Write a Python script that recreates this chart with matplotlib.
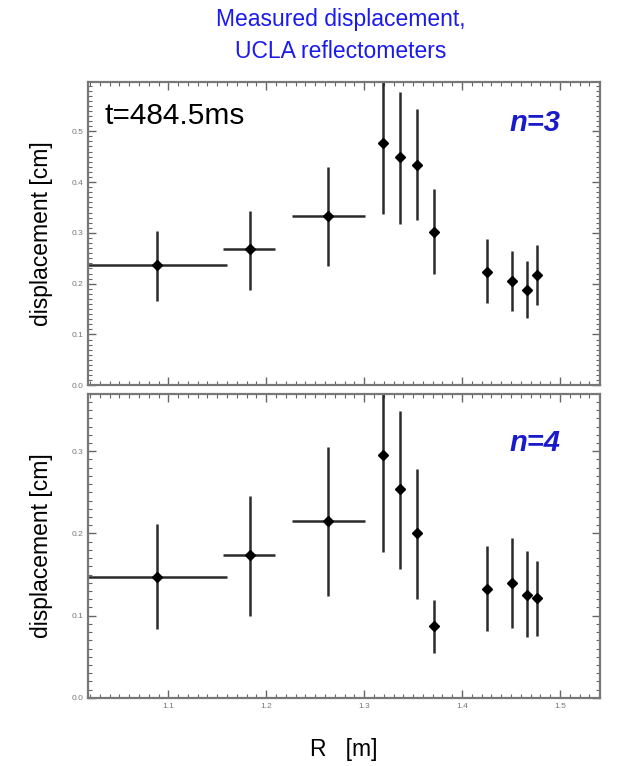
import matplotlib
matplotlib.use("Agg")
import matplotlib.pyplot as plt
from matplotlib.ticker import MultipleLocator

plt.rcParams['font.family'] = ['Liberation Sans', 'DejaVu Sans']

# Data
R = [1.088, 1.183, 1.263, 1.319, 1.337, 1.354, 1.371, 1.426, 1.451, 1.466, 1.477]
R_lo = [1.016, 1.156, 1.226, 1.319, 1.337, 1.354, 1.371, 1.426, 1.451, 1.466, 1.477]
R_hi = [1.160, 1.209, 1.301, 1.319, 1.337, 1.354, 1.371, 1.426, 1.451, 1.466, 1.477]

d3 = [0.237, 0.268, 0.333, 0.477, 0.449, 0.434, 0.302, 0.222, 0.205, 0.187, 0.217]
d3_lo = [0.165, 0.188, 0.234, 0.337, 0.317, 0.326, 0.219, 0.162, 0.147, 0.133, 0.158]
d3_hi = [0.304, 0.343, 0.429, 0.640, 0.578, 0.543, 0.386, 0.287, 0.264, 0.244, 0.276]

d4 = [0.1465, 0.174, 0.215, 0.295, 0.254, 0.200, 0.087, 0.133, 0.140, 0.1255, 0.121]
d4_lo = [0.084, 0.100, 0.124, 0.177, 0.157, 0.120, 0.055, 0.081, 0.085, 0.074, 0.075]
d4_hi = [0.211, 0.245, 0.305, 0.400, 0.3485, 0.278, 0.119, 0.185, 0.194, 0.179, 0.167]

xticks = [1.1, 1.2, 1.3, 1.4, 1.5]

fig = plt.figure(figsize=(6.29, 7.66), dpi=100)
ax1 = fig.add_axes([0.140, 0.497, 0.814, 0.396])
ax2 = fig.add_axes([0.140, 0.089, 0.814, 0.397])

def draw(ax, y, ylo, yhi, ymax, yticks):
    xerr = [[r - l for r, l in zip(R, R_lo)], [h - r for r, h in zip(R, R_hi)]]
    yerr = [[v - l for v, l in zip(y, ylo)], [h - v for v, h in zip(y, yhi)]]
    ax.errorbar(R, y, xerr=xerr, yerr=yerr, fmt='D', ms=5.5, mfc='black', mec='black',
                ecolor='#2a2a2a', elinewidth=1.8, capsize=0)
    ax.set_xlim(1.018, 1.541)
    ax.set_ylim(0, ymax)
    ax.set_xticks(xticks)
    ax.set_yticks(yticks)
    ax.xaxis.set_minor_locator(MultipleLocator(0.01))
    ax.yaxis.set_minor_locator(MultipleLocator(0.01))
    ax.tick_params(which='both', direction='in', top=True, right=True, colors='#666666',
                   labelsize=6, labelcolor='#777777')
    ax.tick_params(which='major', length=6, width=1)
    ax.tick_params(which='minor', length=3, width=0.8)
    for s in ax.spines.values():
        s.set_color('#777777')
        s.set_linewidth(1.6)
    ax.set_ylabel('displacement [cm]', fontsize=16.5, labelpad=13)

draw(ax1, d3, d3_lo, d3_hi, 0.597, [0.0, 0.1, 0.2, 0.3, 0.4, 0.5])
draw(ax2, d4, d4_lo, d4_hi, 0.37, [0.0, 0.1, 0.2, 0.3])
ax1.set_xticklabels([])
ax2.set_xticklabels(['1.1', '1.2', '1.3', '1.4', '1.5'])
ax1.set_yticklabels(['0.0', '0.1', '0.2', '0.3', '0.4', '0.5'])
ax2.set_yticklabels(['0.0', '0.1', '0.2', '0.3'])

ax1.text(0.032, 0.935, 't=484.5ms', transform=ax1.transAxes, fontsize=21.5, va='top', ha='left')
ax1.text(0.873, 0.865, 'n=3', transform=ax1.transAxes, fontsize=21, color='#1a1acc',
         fontweight='bold', style='italic', va='center', ha='center')
ax2.text(0.873, 0.839, 'n=4', transform=ax2.transAxes, fontsize=21, color='#1a1acc',
         fontweight='bold', style='italic', va='center', ha='center')

fig.text(0.542, 0.989, 'Measured displacement,\nUCLA reflectometers', color='#1a1aee',
         fontsize=16.5, ha='center', va='top', linespacing=1.5)
fig.text(0.546, 0.021, 'R   [m]', fontsize=16.5, ha='center', va='center')

fig.savefig('out.png', dpi=100)
